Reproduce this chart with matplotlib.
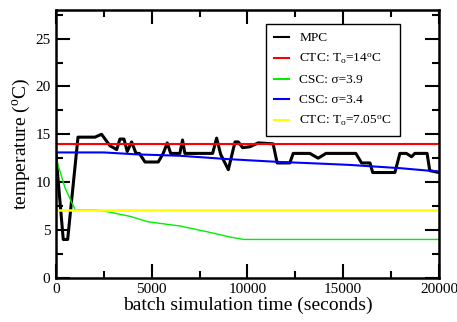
import matplotlib
matplotlib.use("Agg")
import matplotlib.pyplot as plt
from matplotlib.ticker import MultipleLocator

plt.rcParams['font.family'] = ['Liberation Serif', 'DejaVu Serif']
plt.rcParams['mathtext.fontset'] = 'custom'
plt.rcParams['mathtext.rm'] = 'Liberation Serif'
plt.rcParams['mathtext.it'] = 'Liberation Serif:italic'

# MPC temperature profile (s, degC)
mpc_t = [0, 380, 610, 1150, 2040, 2380, 2820, 3170, 3340, 3550, 3720, 3950, 4180,
         4350, 4650, 5340, 5600, 5810, 5990, 6470, 6610, 6730, 8180, 8390, 8600,
         9000, 9350, 9520, 9750, 10130, 10560, 11340, 11550, 12210, 12390, 13260,
         13690, 14100, 15660, 15960, 16400, 16540, 17700, 17960, 18300, 18570,
         18740, 19380, 19520, 20000]
mpc_T = [12.8, 4.0, 4.0, 14.7, 14.7, 15.0, 13.8, 13.4, 14.5, 14.5, 13.2, 14.2, 13.0,
         13.0, 12.1, 12.1, 13.0, 14.1, 13.0, 13.0, 14.4, 13.0, 13.0, 14.6, 12.9,
         11.3, 14.2, 14.2, 13.6, 13.7, 14.1, 14.0, 12.0, 12.0, 13.0, 13.0,
         12.5, 13.0, 13.0, 12.0, 12.0, 11.0, 11.0, 13.0, 13.0, 12.65,
         13.0, 13.0, 11.2, 11.0]

# constant temperature control
ctc_hi = 14.0
ctc_lo = 7.05

# constant supersaturation control
csc39_t = [0, 470, 1000, 2000, 2700, 3900, 4800, 6500, 7900, 9100, 9800, 20000]
csc39_T = [12.5, 9.4, 7.1, 7.1, 6.9, 6.4, 5.85, 5.4, 4.8, 4.25, 4.0, 4.0]
csc34_t = [0, 2500, 4200, 6500, 9000, 11700, 13000, 15300, 18000, 20000]
csc34_T = [13.1, 13.1, 12.9, 12.75, 12.4, 12.1, 12.0, 11.8, 11.45, 11.1]

fig = plt.figure(figsize=(4.57, 3.22), dpi=100)
ax = fig.add_axes([0.1225, 0.1376, 0.838, 0.8314])

ax.plot(mpc_t, mpc_T, color='black', lw=2.2, label='MPC')
ax.plot([0, 20000], [ctc_hi, ctc_hi], color='red', lw=1.5,
        label=r'CTC: T$_{\rm o}$=14$^{\rm o}$C')
ax.plot(csc39_t, csc39_T, color='#00ee00', lw=1.0, label='CSC: σ=3.9')
ax.plot(csc34_t, csc34_T, color='blue', lw=1.5, label='CSC: σ=3.4')
ax.plot([0, 20000], [ctc_lo, ctc_lo], color='yellow', lw=1.8,
        label=r'CTC: T$_{\rm o}$=7.05$^{\rm o}$C')

ax.set_xlim(0, 20000)
ax.set_ylim(0, 28)
ax.xaxis.set_major_locator(MultipleLocator(5000))
ax.xaxis.set_minor_locator(MultipleLocator(2500))
ax.yaxis.set_major_locator(MultipleLocator(5))
ax.yaxis.set_minor_locator(MultipleLocator(2.5))
ax.tick_params(which='both', direction='in', top=True, right=True, width=1.5,
               labelsize=11, pad=4)
ax.tick_params(which='major', length=10)
ax.tick_params(which='minor', length=5)
for s in ax.spines.values():
    s.set_linewidth(1.8)

ax.set_xlabel('batch simulation time (seconds)', fontsize=14, labelpad=0)
ax.set_ylabel(r'temperature ($^{\rm o}$C)', fontsize=14, labelpad=2)

leg = ax.legend(loc='upper left', bbox_to_anchor=(0.548, 0.948), fontsize=9.6,
                handlelength=1.15, handletextpad=0.75, labelspacing=0.58,
                borderpad=0.6, borderaxespad=0, fancybox=False, framealpha=1)
leg.get_frame().set_edgecolor('black')
leg.get_frame().set_linewidth(1.0)
for h in leg.get_lines():
    h.set_linewidth(1.5)

fig.savefig('out.png', dpi=100)
